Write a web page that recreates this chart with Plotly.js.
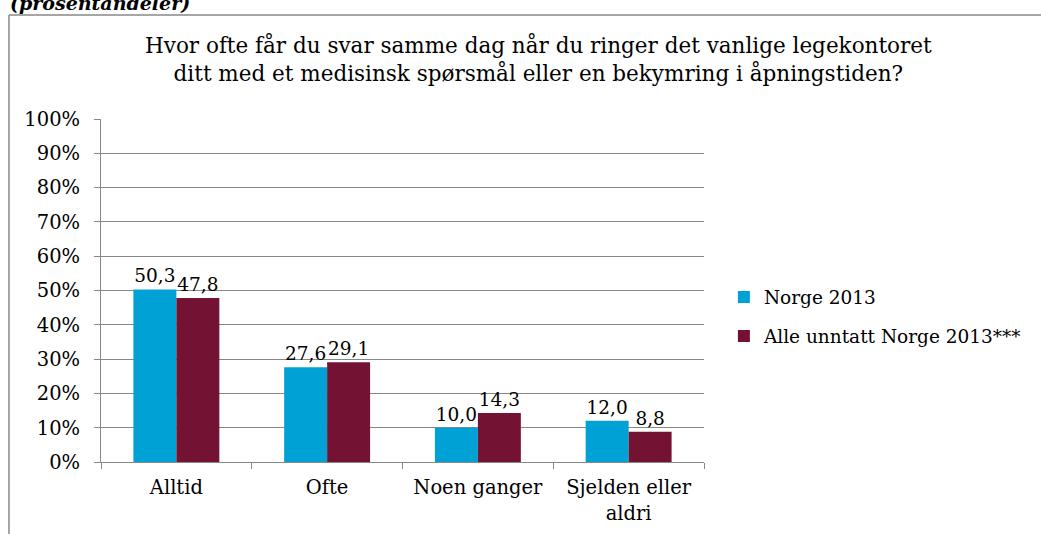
<!DOCTYPE html>
<html>
<head>
<meta charset="utf-8">
<script src="https://cdn.plot.ly/plotly-3.0.1.min.js"></script>
<style>html,body{margin:0;padding:0;background:#fff;}#chart{width:1041px;height:534px;}</style>
</head>
<body>
<div id="chart"></div>
<script>
const categories = ["Alltid", "Ofte", "Noen ganger", "Sjelden eller<br>aldri"];
const norge2013 = [50.3, 27.6, 10.0, 12.0];
const alleUnntatt = [47.8, 29.1, 14.3, 8.8];
const seriesNames = ["Norge 2013", "Alle unntatt Norge 2013***"];
const titleText = "Hvor ofte får du svar samme dag når du ringer det vanlige legekontoret<br>ditt med et medisinsk spørsmål eller en bekymring i åpningstiden?";
const topNote = "(prosentandeler)";

const FONT = "DejaVu Serif, Liberation Serif, serif";
const fmt = v => v.toFixed(1).replace('.', ',');

const traces = [
  {type:'bar', name: seriesNames[0], x: categories, y: norge2013,
   marker:{color:'#00A2D5'}, text: norge2013.map(fmt), textposition:'outside',
   textfont:{size:18.5, color:'#000', family:FONT}, cliponaxis:false, legendgroup:'a', hoverinfo:'skip'},
  {type:'bar', name: seriesNames[1], x: categories, y: alleUnntatt,
   marker:{color:'#741233'}, text: alleUnntatt.map(fmt), textposition:'outside',
   textfont:{size:18.5, color:'#000', family:FONT}, cliponaxis:false, legendgroup:'b', hoverinfo:'skip'}
];

const layout = {
  width:1041, height:534,
  margin:{l:101, r:337, t:119, b:72},
  paper_bgcolor:'#fff', plot_bgcolor:'#fff',
  font:{family:FONT, color:'#000', size:18},
  barmode:'group', bargap:0.43, bargroupgap:0,
  showlegend:true,
  legend:{x:1.033, y:0.423, xanchor:'left', yanchor:'middle', font:{size:18.5, family:FONT},
          tracegroupgap:12, traceorder:'grouped', itemwidth:30},
  xaxis:{showline:true, linecolor:'#888', linewidth:1, tickson:'boundaries', ticks:'outside',
         ticklen:6, tickcolor:'#888', tickfont:{size:19.5, family:FONT}, showgrid:false, fixedrange:true,
         ticklabelstandoff:8},
  yaxis:{range:[0,100], dtick:10, ticksuffix:'%', showline:true, linecolor:'#888', linewidth:1,
         ticks:'outside', ticklen:6, tickcolor:'#888', gridcolor:'#888', gridwidth:1,
         tickfont:{size:19.5, family:FONT}, ticklabelstandoff:10, zeroline:false, fixedrange:true},
  annotations:[
    {text:titleText, xref:'paper', yref:'paper', x:0.725, y:1.175, xanchor:'center', yanchor:'middle',
     showarrow:false, font:{size:21.5, family:FONT}, align:'center'},
    {text:'<b><i>'+topNote+'</i></b>', xref:'paper', yref:'paper', x:-0.154, y:1.338, xanchor:'left', yanchor:'middle',
     showarrow:false, font:{size:19, family:FONT}}
  ],
  shapes:[
    {type:'line', xref:'paper', yref:'paper', x0:-0.1526, x1:1.6, y0:1.3032, y1:1.3032, line:{color:'#888', width:1.5}},
    {type:'line', xref:'paper', yref:'paper', x0:-0.1526, x1:-0.1526, y0:1.3032, y1:-0.25, line:{color:'#888', width:1.5}}
  ]
};

Plotly.newPlot('chart', traces, layout, {displayModeBar:false, staticPlot:true});
</script>
</body>
</html>
